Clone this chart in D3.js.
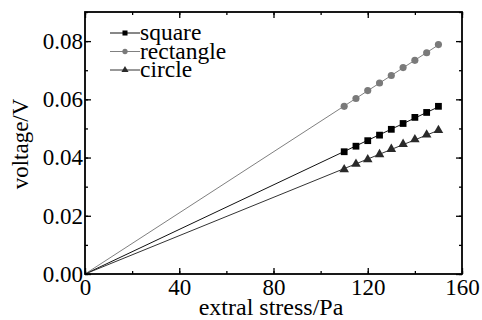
<!DOCTYPE html>
<html>
<head>
<meta charset="utf-8">
<script src="https://cdn.jsdelivr.net/npm/d3@7"></script>
<style>
  html, body { margin: 0; padding: 0; background: #fff; }
  svg { display: block; }
</style>
</head>
<body>
<div id="chart"></div>
<script>
/* stress (Pa) -> output voltage (V) for three sensor shapes */

const stress = [110, 115, 120, 125, 130, 135, 140, 145, 150];
const square = [0.0420, 0.0439, 0.0458, 0.0477, 0.0497, 0.0517, 0.0538, 0.0555, 0.0576];
const rectangle = [0.0576, 0.0603, 0.0630, 0.0656, 0.0682, 0.0709, 0.0734, 0.0760, 0.0788];
const circle = [0.0359, 0.0378, 0.0393, 0.0411, 0.0429, 0.0446, 0.0462, 0.0478, 0.0494];

const xTicks = [0, 40, 80, 120, 160];
const yTicks = [0, 0.02, 0.04, 0.06, 0.08];

const series = [
  { name: 'square',    values: square,    shape: d3.symbolSquare,   size: 46, fill: '#000', line: '#111' },
  { name: 'rectangle', values: rectangle, shape: d3.symbolCircle,   size: 40, fill: '#7a7a7a', line: '#808080' },
  { name: 'circle',    values: circle,    shape: d3.symbolTriangle, size: 40, fill: '#2a2a2a', line: '#333' },
];

const W = 482, H = 320;
const m = { left: 85, right: 20, top: 12, bottom: 46 };
const FONT = "Liberation Serif, Times New Roman, serif";

const x = d3.scaleLinear().domain([0, 160]).range([m.left, W - m.right]);
const y = d3.scaleLinear().domain([0, 0.09]).range([H - m.bottom, m.top]);

const svg = d3.select('#chart').append('svg')
  .attr('width', W).attr('height', H)
  .attr('font-family', FONT);

/* ── fit lines through origin (least squares, slope from data) ── */
series.forEach(s => {
  const k = d3.sum(stress, (v, i) => v * s.values[i]) / d3.sum(stress, v => v * v);
  svg.append('line')
    .attr('x1', x(0)).attr('y1', y(0))
    .attr('x2', x(150)).attr('y2', y(k * 150))
    .attr('stroke', s.line)
    .attr('stroke-width', 1);
});

/* ── markers ── */
series.forEach(s => {
  svg.append('g').selectAll('path')
    .data(stress.map((v, i) => [v, s.values[i]]))
    .join('path')
    .attr('transform', d => `translate(${x(d[0])},${y(d[1])})`)
    .attr('d', d3.symbol().type(s.shape).size(s.size))
    .attr('fill', s.fill);
});

/* ── axes: ticks inward on all sides ── */
const xMinor = d3.range(0, 161, 20);
const yMinor = d3.range(0, 0.0901, 0.01);

function plain(g) {
  g.select('.domain').remove();
  g.attr('font-family', null).attr('font-size', null);
}

svg.append('g')
  .attr('transform', `translate(0,${y(0)})`)
  .call(d3.axisBottom(x).tickValues(xMinor).tickSize(-3).tickFormat(''))
  .call(plain);
svg.append('g')
  .attr('transform', `translate(0,${y(0)})`)
  .call(d3.axisBottom(x).tickValues(xTicks).tickSize(-6).tickPadding(5).tickFormat(d3.format('d')))
  .call(plain)
  .call(g => g.selectAll('text').attr('font-size', 23).attr('fill', '#000'));

svg.append('g')
  .attr('transform', `translate(0,${y(0.09)})`)
  .call(d3.axisTop(x).tickValues(xMinor).tickSize(-3).tickFormat(''))
  .call(plain);
svg.append('g')
  .attr('transform', `translate(0,${y(0.09)})`)
  .call(d3.axisTop(x).tickValues(xTicks).tickSize(-6).tickFormat(''))
  .call(plain);

svg.append('g')
  .attr('transform', `translate(${x(0)},0)`)
  .call(d3.axisLeft(y).tickValues(yMinor).tickSize(-3).tickFormat(''))
  .call(plain);
svg.append('g')
  .attr('transform', `translate(${x(0)},0)`)
  .call(d3.axisLeft(y).tickValues(yTicks).tickSize(-6).tickPadding(2).tickFormat(d3.format('.2f')))
  .call(plain)
  .call(g => g.selectAll('text').attr('font-size', 23).attr('fill', '#000'));

svg.append('g')
  .attr('transform', `translate(${x(160)},0)`)
  .call(d3.axisRight(y).tickValues(yMinor).tickSize(-3).tickFormat(''))
  .call(plain);
svg.append('g')
  .attr('transform', `translate(${x(160)},0)`)
  .call(d3.axisRight(y).tickValues(yTicks).tickSize(-6).tickFormat(''))
  .call(plain);

svg.selectAll('.tick line').attr('stroke', '#000').attr('stroke-width', 1.3);

/* frame */
svg.append('rect')
  .attr('x', x(0)).attr('y', y(0.09))
  .attr('width', x(160) - x(0)).attr('height', y(0) - y(0.09))
  .attr('fill', 'none').attr('stroke', '#000').attr('stroke-width', 1.8);

/* ── axis titles ── */
svg.append('text')
  .attr('x', 271).attr('y', 315)
  .attr('text-anchor', 'middle')
  .attr('font-size', 24)
  .text('extral stress/Pa');

svg.append('text')
  .attr('transform', `translate(28,144) rotate(-90)`)
  .attr('text-anchor', 'middle')
  .attr('font-size', 23)
  .text('voltage/V');

/* ── legend ── */
const lg = svg.append('g').attr('transform', 'translate(110,33)');
series.forEach((s, i) => {
  const row = lg.append('g').attr('transform', `translate(0,${i * 18.5})`);
  row.append('line')
    .attr('x1', 0).attr('x2', 30).attr('y1', 0).attr('y2', 0)
    .attr('stroke', s.line).attr('stroke-width', 1);
  row.append('path')
    .attr('transform', 'translate(15,0)')
    .attr('d', d3.symbol().type(s.shape).size(s.size * 0.55))
    .attr('fill', s.fill);
  row.append('text')
    .attr('x', 30).attr('y', 0).attr('dy', '0.3em')
    .attr('font-size', 23.5)
    .text(s.name);
});
</script>
</body>
</html>
